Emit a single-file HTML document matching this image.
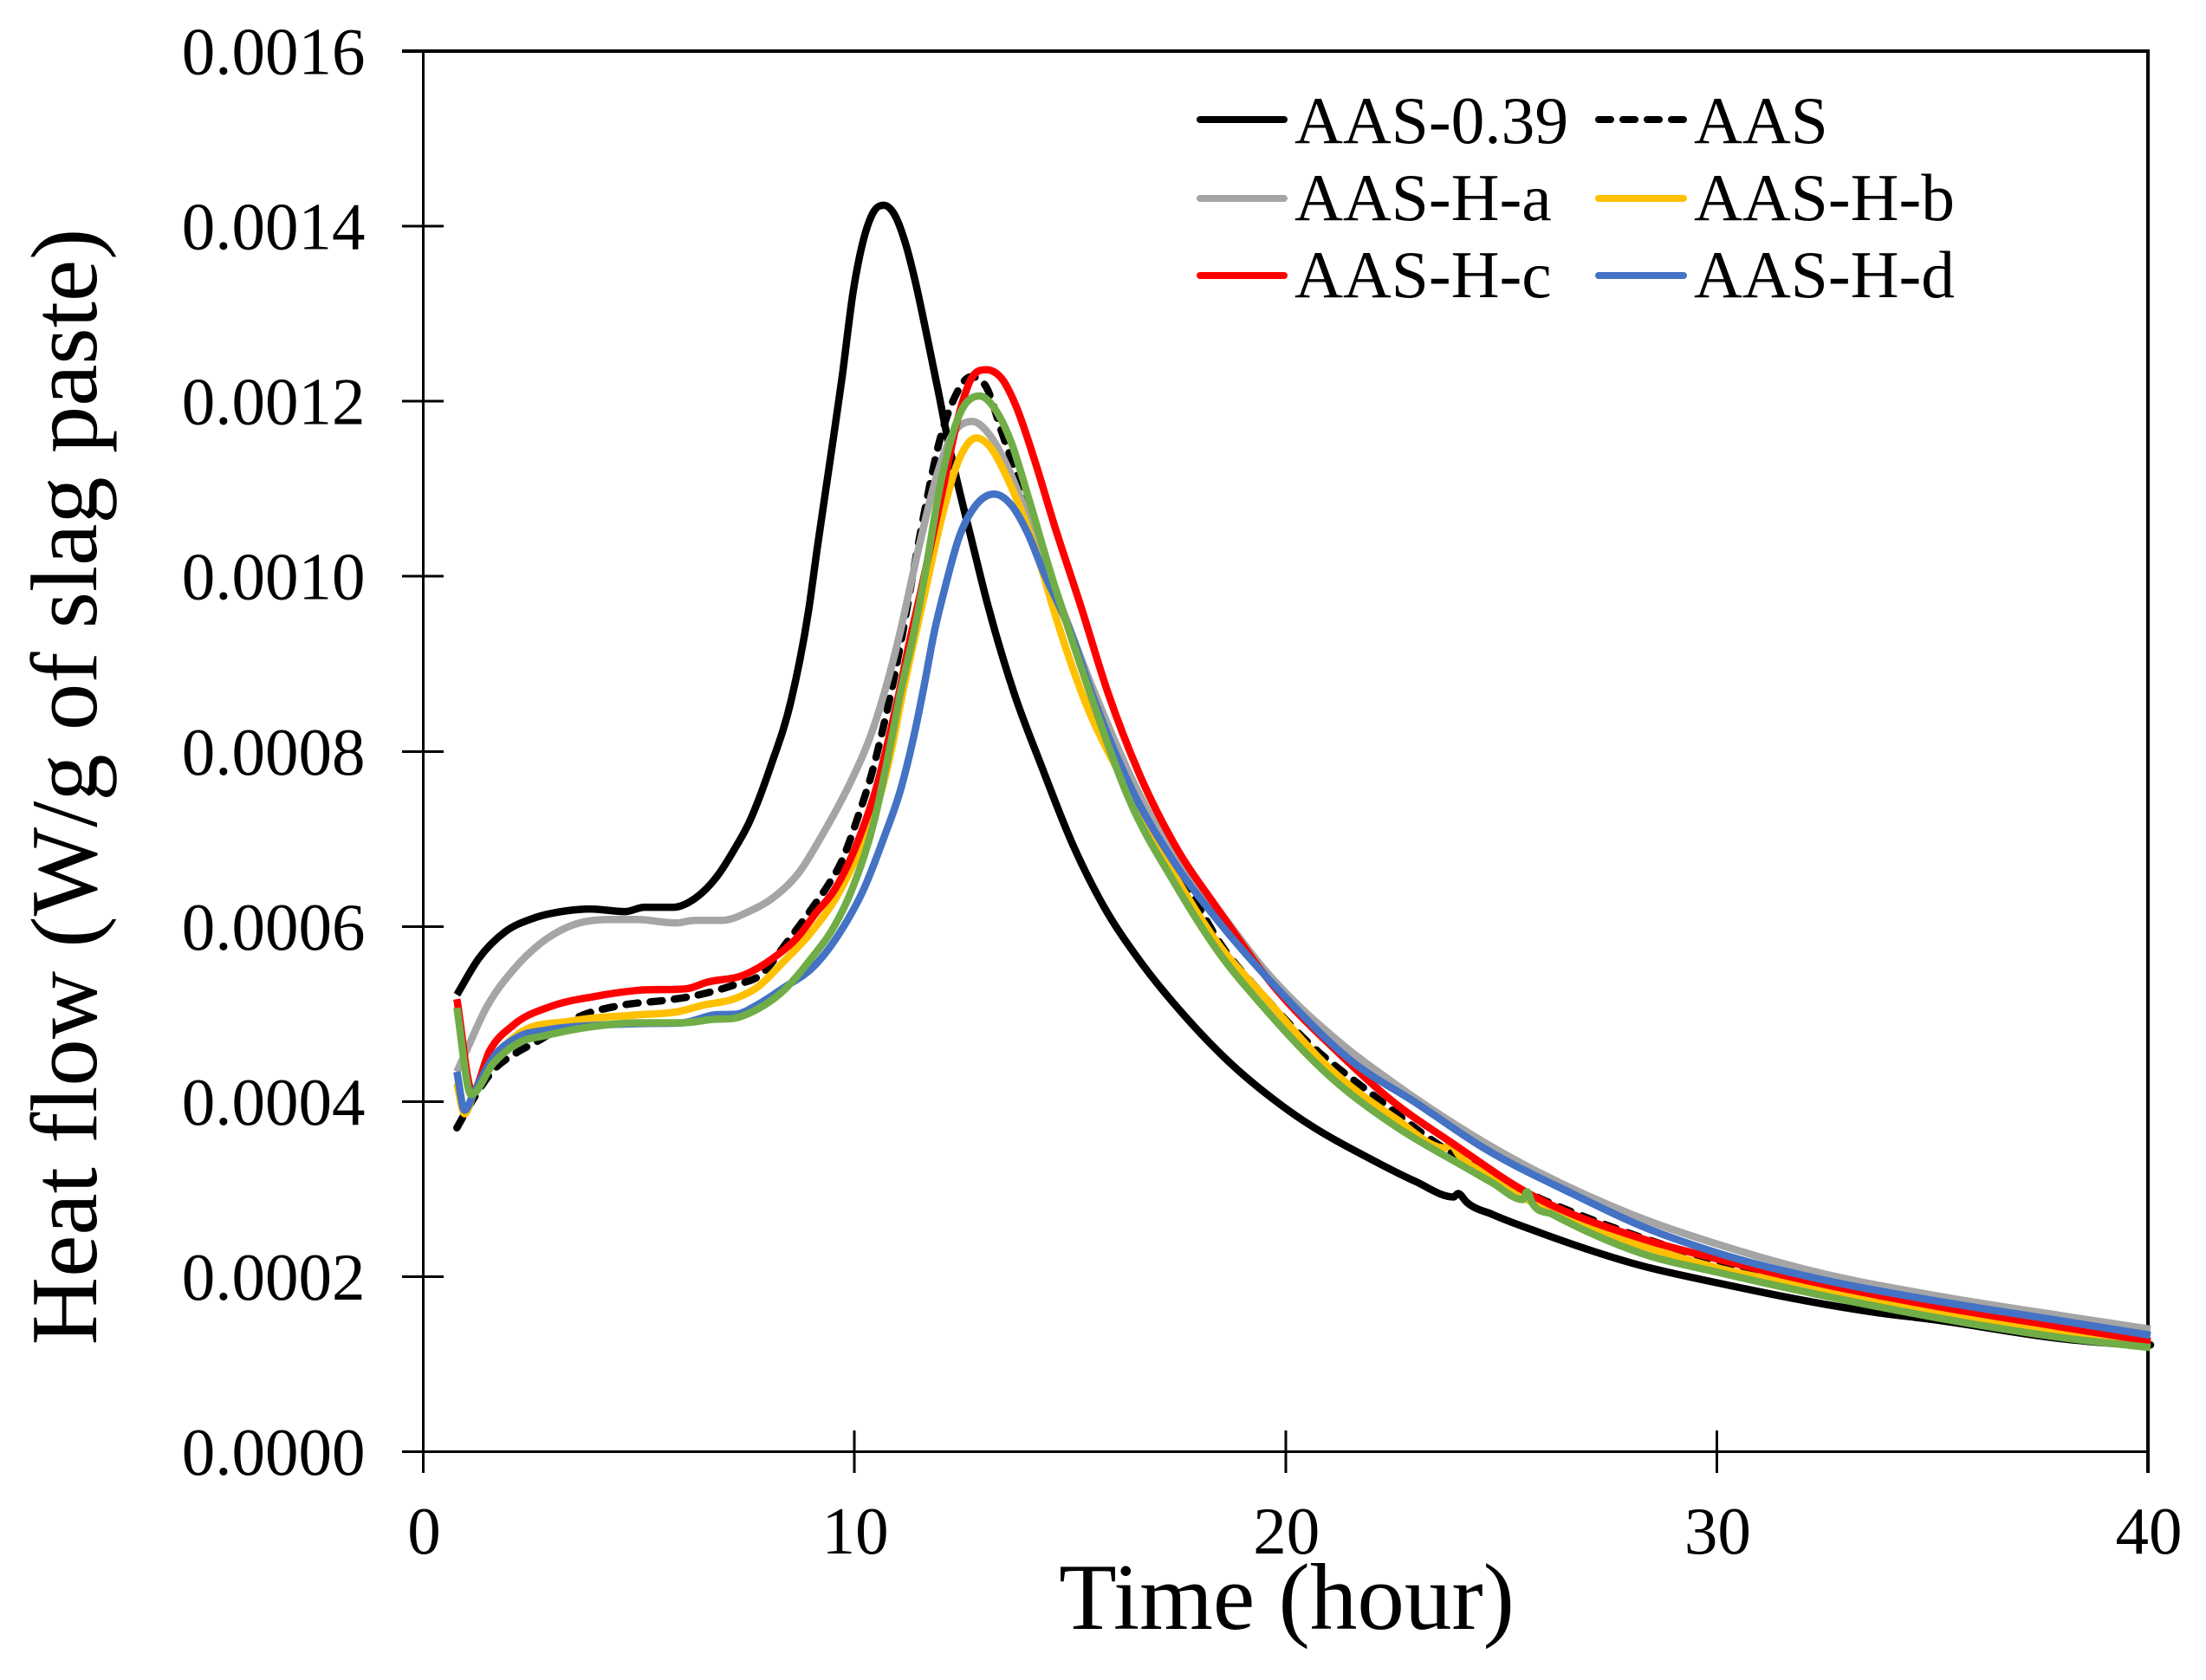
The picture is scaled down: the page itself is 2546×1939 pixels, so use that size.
<!DOCTYPE html>
<html lang="en">
<head>
<meta charset="utf-8">
<title>Heat flow chart</title>
<style>
html,body{margin:0;padding:0;background:#fff;}
svg{display:block;}
text{font-family:"Liberation Serif",serif;fill:#000;}
</style>
</head>
<body>
<svg id="chart" xmlns="http://www.w3.org/2000/svg" width="2546" height="1939" viewBox="0 0 2546 1939">
<rect x="0" y="0" width="2546" height="1939" fill="#fff"/>
<g id="axes"></g>
<g id="series"></g>
<text x="1485" y="1880" font-size="109" text-anchor="middle">Time (hour)</text>
<text transform="translate(111 908) rotate(-90)" font-size="108.7" text-anchor="middle">Heat flow (W/g of slag paste)</text>
<g>
<g><line x1="1385" y1="138" x2="1482" y2="138" stroke="#000" stroke-width="8" stroke-linecap="round"/><text x="1494" y="165" font-size="77.4">AAS-0.39</text></g>
<g><line x1="1845" y1="138" x2="1943" y2="138" stroke="#000" stroke-width="8" stroke-linecap="round" stroke-dasharray="14 14"/><text x="1955" y="165" font-size="77.4">AAS</text></g>
<g><line x1="1385" y1="229" x2="1482" y2="229" stroke="#a5a5a5" stroke-width="8" stroke-linecap="round"/><text x="1494" y="254" font-size="77.4">AAS-H-a</text></g>
<g><line x1="1845" y1="229" x2="1943" y2="229" stroke="#ffc000" stroke-width="8" stroke-linecap="round"/><text x="1955" y="254" font-size="77.4">AAS-H-b</text></g>
<g><line x1="1385" y1="318" x2="1482" y2="318" stroke="#ff0000" stroke-width="8" stroke-linecap="round"/><text x="1494" y="343" font-size="77.4">AAS-H-c</text></g>
<g><line x1="1845" y1="318" x2="1943" y2="318" stroke="#4472c4" stroke-width="8" stroke-linecap="round"/><text x="1955" y="343" font-size="77.4">AAS-H-d</text></g>
</g>
</svg>
<script>
const xTicks = [0, 10, 20, 30, 40];
const yTicks = [0, 0.0002, 0.0004, 0.0006, 0.0008, 0.0010, 0.0012, 0.0014, 0.0016];
const xTickLabels = ['0', '10', '20', '30', '40'];
const yTickLabels = ['0.0000', '0.0002', '0.0004', '0.0006', '0.0008', '0.0010', '0.0012', '0.0014', '0.0016'];

const hoursAas039 = [0.78,1.28,1.9,2.53,3.34,3.87,4.68,5.13,5.8,6.3,6.84,7.19,7.55,8.05,8.54,8.94,9.14,9.47,9.71,9.97,10.24,10.44,10.68,10.92,11.18,11.42,11.68,11.95,12.15,12.4,12.7,13.1,13.7,14.34,15.06,15.77,16.6,17.62,18.65,20.09,22.14,23.0,23.9,24.0,24.2,24.8,25.8,28.29,30,33.7,35,38,40.06];
const valuesAas039 = [0.000522,0.000563,0.000594,0.000609,0.000618,0.00062,0.000617,0.000622,0.000622,0.000632,0.000659,0.000686,0.000718,0.000782,0.00086,0.000962,0.001033,0.001144,0.001226,0.001325,0.00139,0.001416,0.001424,0.001414,0.001381,0.001335,0.001275,0.00121,0.00116,0.001105,0.001045,0.000966,0.000867,0.000783,0.000694,0.000624,0.000562,0.0005,0.000447,0.000389,0.00033,0.000309,0.000291,0.000295,0.000285,0.000271,0.000252,0.000212,0.000193,0.000159,0.000151,0.000129,0.00012];

const hoursAas = [0.78,1.1,1.63,2.17,2.62,3.61,4.6,5.67,6.2,7.2,7.83,8.45,8.99,9.41,9.68,10.08,10.42,10.68,10.92,11.12,11.42,11.69,11.95,12.33,12.7,13.06,13.43,13.83,15.5,17.83,18.44,19.47,20.49,22.04,23.57,25.6,27.66,30,32.5,35,38,40.06];
const valuesAas = [0.00037,0.000398,0.000436,0.000456,0.000468,0.000497,0.00051,0.000516,0.00052,0.000533,0.000545,0.000583,0.000619,0.000649,0.000672,0.000725,0.000778,0.00083,0.000884,0.000936,0.00102,0.00109,0.00115,0.001205,0.001228,0.001216,0.001163,0.001107,0.00087,0.000637,0.000584,0.000522,0.000469,0.000407,0.00035,0.000296,0.000255,0.000218,0.000188,0.000163,0.000138,0.000122];

const hoursHa = [0.78,1,1.46,2.08,2.7,3.43,4.33,4.96,5.85,6.3,6.93,7.55,8.09,8.72,9.27,9.6,9.94,10.42,10.74,11.02,11.49,11.89,12.22,12.73,13.16,13.56,14.1,15.57,16.6,17.42,18.44,19.47,21.22,22.54,24.59,28.29,30.02,32.5,35,38.05,40.06];
const valuesHa = [0.000434,0.000458,0.000507,0.00055,0.00058,0.000601,0.000608,0.000608,0.000604,0.000607,0.000607,0.000617,0.000632,0.000662,0.000706,0.000735,0.000768,0.000824,0.000875,0.000928,0.001032,0.001112,0.001157,0.001177,0.00116,0.001124,0.001058,0.000867,0.000752,0.000681,0.000619,0.000553,0.000469,0.00042,0.000354,0.000266,0.000237,0.000203,0.000179,0.000155,0.00014];

const hoursHb = [0.78,0.96,1.18,2.17,3.43,4.96,5.94,6.48,7.19,7.73,8.36,8.99,9.68,10.21,10.6,10.85,11.12,11.62,12.03,12.43,12.83,13.16,13.5,13.9,14.3,14.7,15.27,16.39,17.42,18.44,19.47,21.02,22.54,23.7,23.8,24.05,24.6,25.6,26.6,28.29,30.02,32.5,35,38.05,40.06];
const valuesHb = [0.000421,0.000386,0.000411,0.000476,0.000492,0.000499,0.000503,0.00051,0.000517,0.00053,0.00056,0.000593,0.000642,0.000698,0.00075,0.0008,0.000867,0.000978,0.001068,0.001134,0.001158,0.001147,0.001117,0.001071,0.001015,0.000949,0.000867,0.000752,0.000659,0.00058,0.000522,0.000438,0.000381,0.000347,0.000352,0.000337,0.000318,0.000288,0.000265,0.000235,0.00021,0.000185,0.000161,0.000135,0.000124];

const hoursHc = [0.78,1.14,1.54,2.08,2.98,3.97,4.96,6.12,6.56,7.46,8.09,8.72,9.1,9.54,10.14,10.54,10.82,11.05,11.25,11.55,12.03,12.43,12.7,13.06,13.43,13.76,14.17,14.64,15.25,15.88,16.69,17.42,18.44,19.67,21.22,22.54,23.88,25.6,28.29,30.02,32.5,35,38.05,40.06];
const valuesHc = [0.000517,0.000411,0.000458,0.000487,0.000509,0.00052,0.000527,0.000529,0.000536,0.000545,0.000563,0.00059,0.000615,0.000642,0.000705,0.000764,0.00082,0.00087,0.000919,0.000985,0.001095,0.001186,0.001225,0.001236,0.001225,0.001193,0.001134,0.001058,0.000966,0.000867,0.000765,0.000694,0.000619,0.000535,0.000456,0.000398,0.000352,0.000296,0.000243,0.00022,0.000191,0.000167,0.000142,0.000126];

const hoursHd = [0.78,0.96,1.18,1.63,2.17,2.89,3.97,4.96,6.02,6.75,7.29,7.73,8.36,9.07,9.7,10.21,10.68,11.08,11.42,11.62,11.85,12.09,12.43,12.83,13.24,13.63,14.03,14.36,15.04,15.5,16.39,17.42,18.44,19.77,21.51,23.07,24.59,26.64,28.29,30.02,32.5,35,38.05,40.06];
const valuesHd = [0.000434,0.00039,0.000411,0.000451,0.000473,0.000482,0.000487,0.000489,0.00049,0.000499,0.0005,0.00051,0.00053,0.000555,0.000596,0.000642,0.000701,0.000758,0.000827,0.000876,0.000936,0.000985,0.001045,0.001082,0.001094,0.001082,0.001048,0.001008,0.000933,0.000867,0.000761,0.000673,0.000606,0.000531,0.000447,0.000397,0.000347,0.000295,0.000257,0.000227,0.000196,0.000173,0.000149,0.000133];

const hoursHe = [0.78,1.11,1.63,2.17,2.89,3.97,5.04,6.02,6.75,7.19,7.73,8.36,8.99,9.53,9.94,10.48,10.82,11.08,11.38,11.62,12.03,12.43,12.9,13.3,13.63,14.03,14.5,14.97,15.46,16.39,17.42,18.44,19.47,21.02,22.54,24.09,24.8,25.5,25.6,25.72,26.2,27.2,28.29,30.02,32.5,35,38.05,40.06];
const valuesHe = [0.000507,0.000408,0.000444,0.000466,0.000476,0.000486,0.00049,0.00049,0.000494,0.000495,0.000505,0.000527,0.000563,0.0006,0.000642,0.000725,0.000804,0.00087,0.000936,0.000998,0.001114,0.001184,0.001206,0.001188,0.001154,0.001091,0.001012,0.000939,0.000867,0.000743,0.00065,0.000571,0.000509,0.000429,0.000372,0.000327,0.000307,0.000288,0.000297,0.000284,0.000271,0.000247,0.000226,0.000205,0.000178,0.000154,0.00013,0.000119];

const NS = 'http://www.w3.org/2000/svg';
const plotLeft = 488.5, plotRight = 2479, plotBottom = 1675.5, plotTop = 59;
const xMax = 40, yMax = 0.0016;
function xScale(h) { return plotLeft + (h / xMax) * (plotRight - plotLeft); }
function yScale(v) { return plotBottom - (v / yMax) * (plotBottom - plotTop); }

function smoothPath(hs, vs) {
  const px = hs.map(xScale), py = vs.map(yScale);
  const n = px.length, d = [], m = [];
  for (let i = 0; i < n - 1; i++) d.push((py[i + 1] - py[i]) / (px[i + 1] - px[i]));
  m.push(d[0]);
  for (let i = 1; i < n - 1; i++) {
    if (d[i - 1] * d[i] <= 0) { m.push(0); continue; }
    const a = px[i] - px[i - 1], b = px[i + 1] - px[i];
    const para = (d[i - 1] * b + d[i] * a) / (a + b);
    const lim = 3 * Math.min(Math.abs(d[i - 1]), Math.abs(d[i]));
    m.push(Math.sign(para) * Math.min(Math.abs(para), lim));
  }
  m.push(d[n - 2]);
  let out = 'M' + px[0].toFixed(2) + ' ' + py[0].toFixed(2);
  for (let i = 0; i < n - 1; i++) {
    const t = (px[i + 1] - px[i]) / 3;
    out += 'C' + (px[i] + t).toFixed(2) + ' ' + (py[i] + m[i] * t).toFixed(2) + ' ' +
      (px[i + 1] - t).toFixed(2) + ' ' + (py[i + 1] - m[i + 1] * t).toFixed(2) + ' ' +
      px[i + 1].toFixed(2) + ' ' + py[i + 1].toFixed(2);
  }
  return out;
}

const axes = document.getElementById('axes');
function addLine(x1, y1, x2, y2, w, name) {
  const el = document.createElementNS(NS, 'line');
  el.setAttribute('x1', x1);
  el.setAttribute('y1', y1);
  el.setAttribute('x2', x2);
  el.setAttribute('y2', y2);
  el.setAttribute('stroke', '#000');
  el.setAttribute('stroke-width', w);
  el.setAttribute('shape-rendering', 'crispEdges');
  
  
  axes.appendChild(el);
}
addLine(plotLeft, plotTop, plotLeft, 1700, 3, 'y-axis-line');
addLine(plotRight, plotTop, plotRight, 1700, 4, 'right-border-line');
addLine(464, plotBottom, plotRight, plotBottom, 3, 'x-axis-line');
addLine(464, plotTop, plotRight + 2, plotTop, 4, 'top-border-line');

yTicks.forEach(function (v, i) {
  if (i > 0 && i < yTicks.length - 1) addLine(464, yScale(v), 512, yScale(v), 3, 'y-tick-mark');
  const t = document.createElementNS(NS, 'text');
  t.setAttribute('x', 421.5);
  t.setAttribute('y', yScale(v) + 26.5);
  t.setAttribute('font-size', '77');
  t.setAttribute('text-anchor', 'end');
  
  
  t.textContent = yTickLabels[i];
  axes.appendChild(t);
});
xTicks.forEach(function (h, i) {
  if (i > 0 && i < xTicks.length - 1) addLine(xScale(h), 1651, xScale(h), 1700, 3, 'x-tick-mark');
  const t = document.createElementNS(NS, 'text');
  t.setAttribute('x', xScale(h) + 1);
  t.setAttribute('y', 1793);
  t.setAttribute('font-size', '77');
  t.setAttribute('text-anchor', 'middle');
  
  
  t.textContent = xTickLabels[i];
  axes.appendChild(t);
});

const seriesGroup = document.getElementById('series');
function addSeries(hs, vs, color, name, dash) {
  const p = document.createElementNS(NS, 'path');
  p.setAttribute('d', smoothPath(hs, vs));
  p.setAttribute('fill', 'none');
  p.setAttribute('stroke', color);
  p.setAttribute('stroke-width', '8.5');
  p.setAttribute('stroke-linejoin', 'round');
  if (dash) {
    p.setAttribute('stroke-dasharray', dash);
    p.setAttribute('stroke-linecap', 'round');
  }
  
  
  seriesGroup.appendChild(p);
}
addSeries(hoursAas039, valuesAas039, '#000000', 'line-aas-039');
addSeries(hoursAas, valuesAas, '#000000', 'line-aas', '14 14');
addSeries(hoursHa, valuesHa, '#a5a5a5', 'line-aas-h-a');
addSeries(hoursHb, valuesHb, '#ffc000', 'line-aas-h-b');
addSeries(hoursHc, valuesHc, '#ff0000', 'line-aas-h-c');
addSeries(hoursHd, valuesHd, '#4472c4', 'line-aas-h-d');
addSeries(hoursHe, valuesHe, '#70ad47', 'line-unlabelled-green');
</script>
</body>
</html>
